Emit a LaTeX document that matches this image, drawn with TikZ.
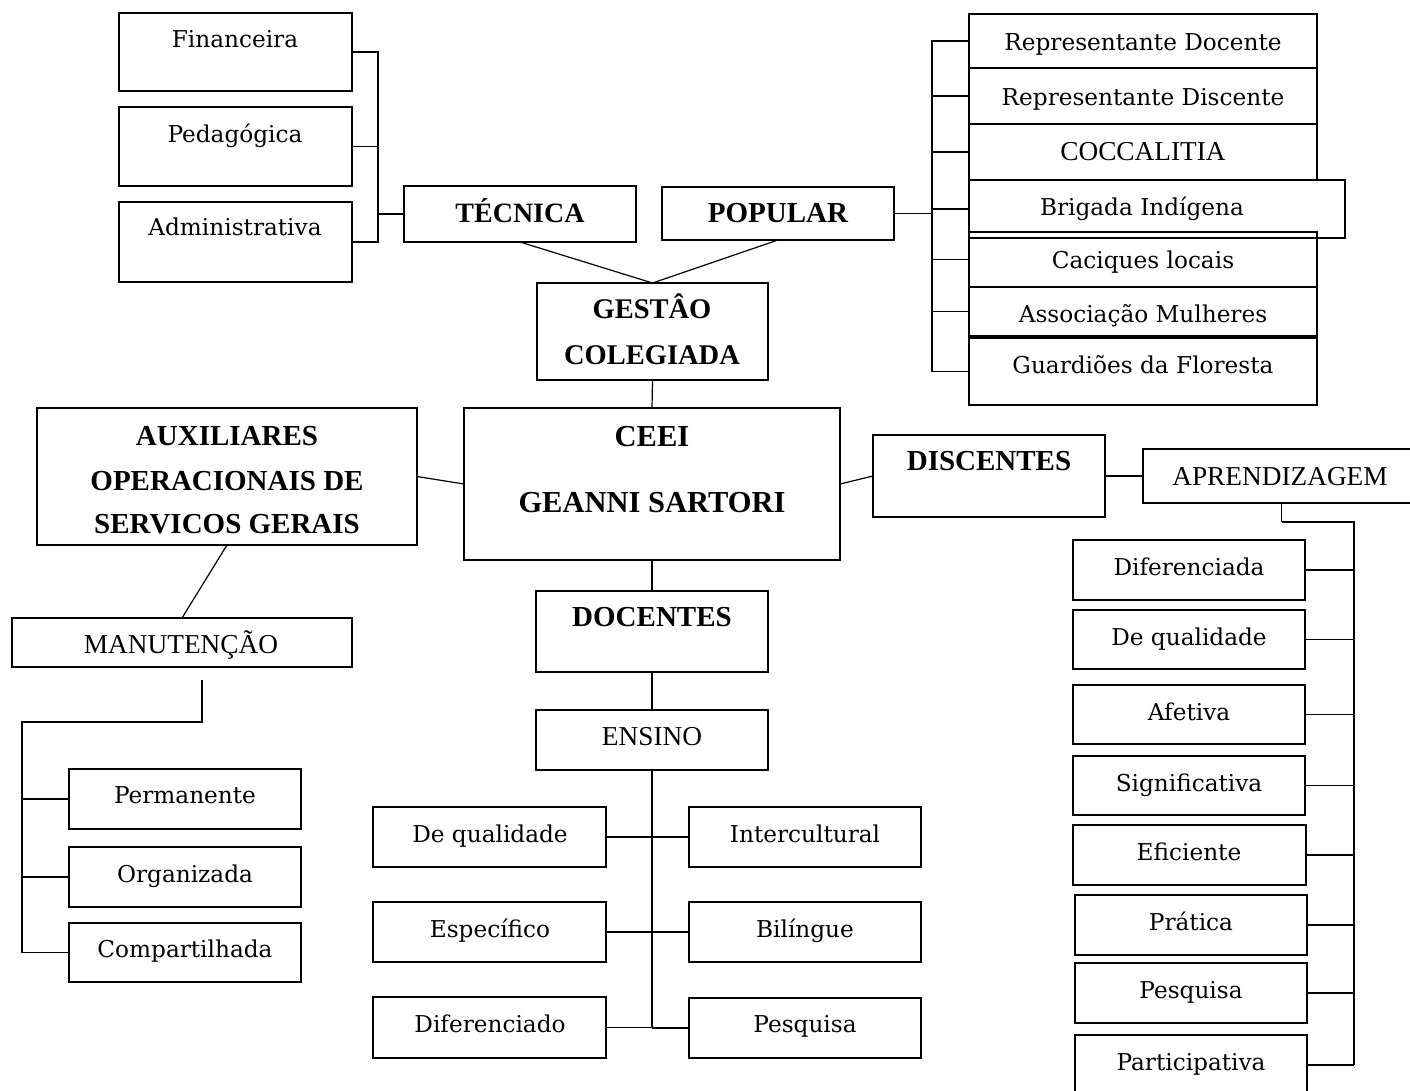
\documentclass[tikz,border=0pt]{standalone}
\usepackage{fontspec}
\usetikzlibrary{fit}
\newfontfamily\geo{DejaVu Serif}
\newfontfamily\tms{Liberation Serif}
\tikzset{
  box/.style={draw, line width=1.2pt, inner sep=0pt, outer sep=0pt},
  gt/.style={anchor=base, inner sep=0pt, font=\geo\fontsize{23.2}{28}\selectfont},
  tt/.style={anchor=base, inner sep=0pt, font=\tms\fontsize{27.3}{32}\selectfont},
  bt/.style={anchor=base, inner sep=0pt, font=\tms\bfseries\fontsize{28.5}{32}\selectfont},
  bs/.style={bt, font=\tms\bfseries\fontsize{28}{32}\selectfont},
  bm/.style={bt, font=\tms\bfseries\fontsize{29}{32}\selectfont},
  bl/.style={bt, font=\tms\bfseries\fontsize{30.5}{34}\selectfont},
  ln/.style={line width=1.2pt},
  thk/.style={line width=2.4pt},
}
\newcommand\bx[5]{\node[box, fit={(#2,#3)(#4,#5)}] (#1) {};}
\newcommand\tx[5]{\node[#1] (#2) at (#3,#4) {#5};}
\begin{document}
\begin{tikzpicture}[x=1pt,y=-1pt]
\useasboundingbox (0,0) rectangle (1410,1090);
\fill[white] (0,0) rectangle (1410,1090);
% top-left group
\bx{fin}{119}{13}{352}{91}   \tx{gt}{fint}{235}{47}{Financeira}
\bx{ped}{119}{107}{352}{186} \tx{gt}{pedt}{235}{142}{Pedagógica}
\bx{adm}{119}{202}{352}{282} \tx{gt}{admt}{235}{235}{Administrativa}
\bx{tec}{404}{186}{636}{242} \tx{bs}{tect}{520}{222}{TÉCNICA}
\bx{pop}{662}{187}{894}{240} \tx{bm}{popt}{778}{222}{POPULAR}
\bx{ges}{537}{283}{768}{380}
\tx{bt}{gest1}{652}{318}{GESTÂO}
\tx{bt}{gest2}{652}{364}{COLEGIADA}
% centre
\bx{ceei}{464}{408}{840}{560}
\tx{bl}{ceeit1}{652}{446}{CEEI}
\tx{bl}{ceeit2}{652}{512}{GEANNI SARTORI}
\bx{aux}{37}{408}{417}{545}
\tx{bm}{auxt1}{227}{445}{AUXILIARES}
\tx{bm}{auxt2}{227}{490}{OPERACIONAIS DE}
\tx{bm}{auxt3}{227}{533}{SERVICOS GERAIS}
\bx{disc}{873}{435}{1105}{517} \tx{bm}{disct}{989}{470}{DISCENTES}
\bx{apr}{1143}{449}{1414}{503} \tx{tt}{aprt}{1280}{485}{APRENDIZAGEM}
\bx{manu}{12}{618}{352}{667}   \tx{tt}{manut}{181}{653}{MANUTENÇÃO}
\bx{doc}{536}{591}{768}{672}   \tx{bm}{doct}{652}{626}{DOCENTES}
\bx{ens}{536}{710}{768}{770}   \tx{tt}{enst}{652}{745}{ENSINO}
% ensino children
\bx{eq}{373}{807}{606}{867}  \tx{gt}{eqt}{490}{842}{De qualidade}
\bx{ee}{373}{902}{606}{962}  \tx{gt}{eet}{490}{937}{Específico}
\bx{ed}{373}{997}{606}{1058} \tx{gt}{edt}{490}{1032}{Diferenciado}
\bx{ei}{689}{807}{921}{867}  \tx{gt}{eit}{805}{842}{Intercultural}
\bx{eb}{689}{902}{921}{962}  \tx{gt}{ebt}{805}{937}{Bilíngue}
\bx{ep}{689}{998}{921}{1058} \tx{gt}{ept}{805}{1032}{Pesquisa}
% manutencao children
\bx{mp}{69}{769}{301}{829} \tx{gt}{mpt}{185}{803}{Permanente}
\bx{mo}{69}{847}{301}{907} \tx{gt}{mot}{185}{882}{Organizada}
\bx{mc}{69}{923}{301}{982} \tx{gt}{mct}{185}{957}{Compartilhada}
% aprendizagem children
\bx{a1}{1073}{540}{1305}{600}  \tx{gt}{a1t}{1189}{575}{Diferenciada}
\bx{a2}{1073}{610}{1305}{669}  \tx{gt}{a2t}{1189}{645}{De qualidade}
\bx{a3}{1073}{685}{1305}{744}  \tx{gt}{a3t}{1189}{720}{Afetiva}
\bx{a4}{1073}{756}{1305}{815}  \tx{gt}{a4t}{1189}{791}{Significativa}
\bx{a5}{1073}{825}{1306}{885}  \tx{gt}{a5t}{1189}{860}{Eficiente}
\bx{a6}{1075}{895}{1307}{955}  \tx{gt}{a6t}{1191}{930}{Prática}
\bx{a7}{1075}{963}{1307}{1023} \tx{gt}{a7t}{1191}{998}{Pesquisa}
\bx{a8}{1075}{1035}{1307}{1095} \tx{gt}{a8t}{1191}{1070}{Participativa}
% popular children
\bx{p1}{969}{14}{1317}{68}   \tx{gt}{p1t}{1143}{50}{Representante Docente}
\bx{p2}{969}{68}{1317}{124}  \tx{gt}{p2t}{1143}{105}{Representante Discente}
\bx{p3}{969}{124}{1317}{180} \tx{tt}{p3t}{1143}{160}{COCCALITIA}
\bx{p4}{969}{180}{1345}{238} \tx{gt}{p4t}{1142}{215}{Brigada Indígena}
\bx{p5}{969}{232}{1317}{287} \tx{gt}{p5t}{1143}{268}{Caciques locais}
\bx{p6}{969}{287}{1317}{336} \tx{gt}{p6t}{1143}{322}{Associação Mulheres}
\bx{p7}{969}{338}{1317}{405} \tx{gt}{p7t}{1143}{373}{Guardiões da Floresta}
% connectors: tecnica bracket
\draw[ln] (fin.east) -- ++(26,0) |- (adm.east);
\draw[ln] (ped.east) -- ++(26,0);
\draw[ln] (tec.west) -- ++(-26,0);
% popular bracket
\draw[ln] (p1.west) -- ++(-37,0) |- (p7.west);
\foreach \n in {p2,p3,p4,p5,p6} \draw[ln] (\n.west) -- ++(-37,0);
\draw[ln] (pop.east) -- ++(39,0);
% gestao
\draw[ln] (tec.south) -- (ges.north);
\draw[ln] (pop.south) -- (ges.north);
\draw[ln] (ges.south) -- (ceei.north);
\draw[ln] (aux.east) -- (ceei.west);
\draw[ln] (ceei.east) -- (disc.west);
\draw[ln] (disc.east) -- (apr.west);
\draw[ln] (aux.south) -- (manu.north);
\draw[ln] (ceei.south) -- (doc.north);
\draw[ln] (doc.south) -- (ens.south |- doc.south) -- (ens.north);
% ensino bracket
\draw[ln] (ens.south) -- (ens.south |- ed.east);
\foreach \n in {eq,ee,ed} \draw[ln] (\n.east) -- (\n.east -| ens.south);
\foreach \n in {ei,eb,ep} \draw[ln] (\n.west) -- (\n.west -| ens.south);
% aprendizagem bracket
\coordinate (av) at (1354,522);
\coordinate (am) at (1354,855);
\draw[ln] ([xshift=3pt]apr.south) -- ([xshift=3pt]apr.south |- av);
\draw[thk] ([xshift=3pt]apr.south |- av) -- (av) -- (am);
\draw[ln] (am) -- (am |- a8.east);
\foreach \n in {a1,a2,a3,a4,a5,a6,a7,a8} \draw[ln] (\n.east) -- (\n.east -| am);
% manutencao bracket
\coordinate (m1) at (202,680);
\coordinate (m2) at (22,722);
\draw[line width=1.8pt] (m1) |- (m2) -- (m2 |- mc.west) -- (mc.west);
\foreach \n in {mp,mo} \draw[ln] (\n.west) -- (\n.west -| m2);
\end{tikzpicture}
\end{document}
